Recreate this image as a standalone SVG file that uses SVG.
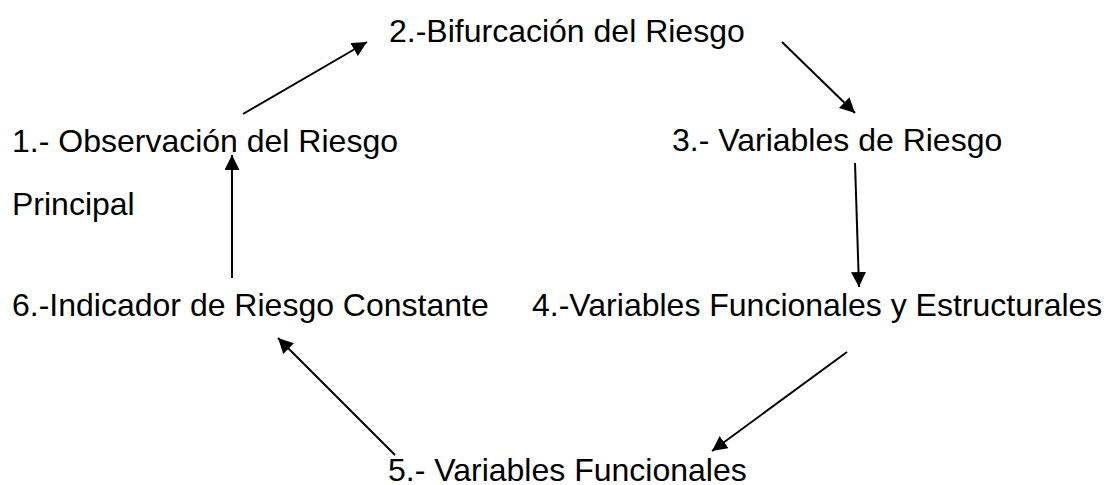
<svg xmlns="http://www.w3.org/2000/svg" width="1108" height="485" viewBox="0 0 1108 485">
<style>
text{font-family:"Liberation Sans",Arial,sans-serif;font-size:32px;fill:#000}
.c line{stroke:#000;stroke-width:2;marker-end:url(#ah)}
</style>
<defs>
<marker id="ah" viewBox="0 0 15 15" refX="15" refY="7.5" markerWidth="15" markerHeight="15" markerUnits="userSpaceOnUse" orient="auto">
<path d="M0,0 L15,7.5 L0,15 z" fill="#000"/>
</marker>
</defs>
<rect width="1108" height="485" fill="#fff"/>
<g id="n1"><text x="12" y="152">1.- Observación del Riesgo</text><text x="12" y="215">Principal</text></g>
<g id="n2"><text x="389" y="42">2.-Bifurcación del Riesgo</text></g>
<g id="n3"><text x="672" y="151">3.- Variables de Riesgo</text></g>
<g id="n4"><text x="532" y="316">4.-Variables Funcionales y Estructurales</text></g>
<g id="n5"><text x="388" y="481">5.- Variables Funcionales</text></g>
<g id="n6"><text x="12" y="316">6.-Indicador de Riesgo Constante</text></g>
<g class="c" id="connectors">
<line x1="243" y1="114" x2="367" y2="42"/>
<line x1="782" y1="42" x2="855" y2="113"/>
<line x1="855" y1="163" x2="859" y2="287"/>
<line x1="847" y1="352" x2="712" y2="451"/>
<line x1="395" y1="455" x2="278" y2="338"/>
<line x1="232" y1="278" x2="232" y2="155"/>
</g>
</svg>
